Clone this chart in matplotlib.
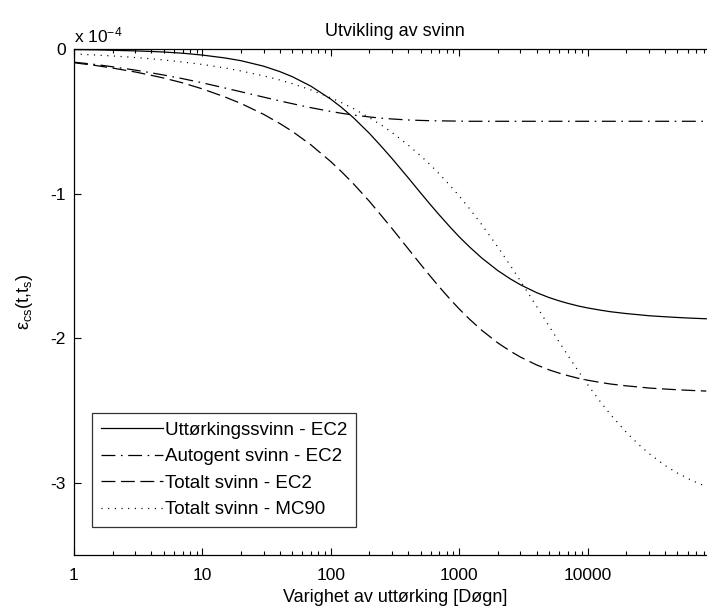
import matplotlib
matplotlib.use('Agg')
import matplotlib.pyplot as plt
from matplotlib.ticker import LogLocator, NullFormatter, FixedLocator

plt.rcParams['font.family'] = ['Liberation Sans', 'DejaVu Sans']
plt.rcParams['mathtext.default'] = 'regular'
plt.rcParams['lines.scale_dashes'] = False

# varighet av uttørking [døgn]
t_days = [1, 1.5, 2, 3, 4, 5, 7, 10, 15, 20, 30, 40, 50, 70, 100, 120, 150,
          200, 250, 300, 400, 500, 600, 700, 850, 1000, 1200, 1500, 2000,
          2500, 3000, 4000, 5000, 6000, 7000, 8500, 10000, 12500, 15000,
          20000, 25000, 30000, 40000, 50000, 65000, 84000]

# tøyning i enheter av 1e-4 (avlest)
uttorking_ec2 = [-0.004, -0.006, -0.009, -0.013, -0.017, -0.021, -0.029, -0.042,
                 -0.062, -0.081, -0.119, -0.156, -0.191, -0.257, -0.347, -0.401,
                 -0.475, -0.584, -0.678, -0.758, -0.890, -0.995, -1.079, -1.148,
                 -1.232, -1.299, -1.368, -1.446, -1.533, -1.590, -1.631, -1.685,
                 -1.719, -1.742, -1.759, -1.778, -1.791, -1.806, -1.817, -1.830,
                 -1.838, -1.845, -1.852, -1.857, -1.862, -1.866]
autogent_ec2 = [-0.091, -0.108, -0.123, -0.146, -0.165, -0.180, -0.205, -0.234,
                -0.270, -0.296, -0.333, -0.359, -0.378, -0.406, -0.432, -0.444,
                -0.457, -0.470, -0.479, -0.484, -0.491, -0.494, -0.496, -0.497,
                -0.498, -0.499, -0.500, -0.500, -0.500, -0.500, -0.500, -0.500,
                -0.500, -0.500, -0.500, -0.500, -0.500, -0.500, -0.500, -0.500,
                -0.500, -0.500, -0.500, -0.500, -0.500, -0.500]
totalt_ec2 = [-0.095, -0.115, -0.132, -0.159, -0.182, -0.201, -0.234, -0.276,
              -0.332, -0.377, -0.452, -0.515, -0.569, -0.663, -0.779, -0.845,
              -0.932, -1.054, -1.157, -1.242, -1.381, -1.489, -1.575, -1.646,
              -1.731, -1.798, -1.868, -1.946, -2.033, -2.090, -2.131, -2.185,
              -2.219, -2.242, -2.259, -2.278, -2.291, -2.306, -2.317, -2.330,
              -2.338, -2.345, -2.352, -2.357, -2.362, -2.366]
totalt_mc90 = [-0.034, -0.042, -0.048, -0.059, -0.068, -0.076, -0.090, -0.107,
               -0.131, -0.152, -0.186, -0.214, -0.239, -0.283, -0.338, -0.369,
               -0.412, -0.475, -0.529, -0.578, -0.664, -0.738, -0.804, -0.864,
               -0.945, -1.017, -1.103, -1.215, -1.370, -1.497, -1.605, -1.779,
               -1.916, -2.026, -2.118, -2.230, -2.321, -2.437, -2.526, -2.651,
               -2.736, -2.797, -2.880, -2.933, -2.985, -3.026]

labels = ['Uttørkingssvinn - EC2', 'Autogent svinn - EC2',
          'Totalt svinn - EC2', 'Totalt svinn - MC90']

fig = plt.figure(figsize=(7.07, 6.07), dpi=100)
# axes runs a bit past the right edge, like the cropped original
ax = fig.add_axes([74 / 707, 52 / 607, 642 / 707, 506 / 607])

lw = 0.9
ax.plot(t_days, uttorking_ec2, color='black', lw=lw, linestyle='-', label=labels[0])
ax.plot(t_days, autogent_ec2, color='black', lw=lw, linestyle=(0, (10, 4, 1.2, 4)), label=labels[1])
ax.plot(t_days, totalt_ec2, color='black', lw=lw, linestyle=(0, (10, 4)), label=labels[2])
ax.plot(t_days, totalt_mc90, color='black', lw=lw, linestyle=(0, (0.8, 4)), label=labels[3])

ax.set_xscale('log')
ax.set_xlim(1, 1e5)
ax.set_ylim(-3.5, 0)
ax.xaxis.set_major_locator(FixedLocator([1, 10, 100, 1000, 10000]))
ax.set_xticklabels(['1', '10', '100', '1000', '10000'])
ax.xaxis.set_minor_locator(LogLocator(base=10, subs=range(2, 10)))
ax.xaxis.set_minor_formatter(NullFormatter())
ax.set_yticks([0, -1, -2, -3])
ax.set_yticklabels(['0', '-1', '-2', '-3'])

ax.tick_params(which='both', direction='in', top=True, right=True, labelsize=12.5)
ax.tick_params(axis='x', which='major', pad=9)
ax.tick_params(axis='y', which='major', pad=6)
ax.tick_params(which='major', length=5, width=0.8)
ax.tick_params(which='minor', length=3, width=0.8)
for s in ax.spines.values():
    s.set_linewidth(0.9)

ax.set_title('Utvikling av svinn', fontsize=13, pad=9)
ax.set_xlabel('Varighet av uttørking [Døgn]', fontsize=13, labelpad=5)
ax.set_ylabel('ε$_{cs}$(t,t$_s$)', fontsize=13, labelpad=11)
ax.text(0.0, 1.008, 'x 10$^{-4}$', transform=ax.transAxes, fontsize=12.5,
        ha='left', va='bottom')

leg = ax.legend(loc='lower left', bbox_to_anchor=(92 / 707, 80 / 607),
                bbox_transform=fig.transFigure, fontsize=13.5, frameon=True,
                fancybox=False, edgecolor='black', handlelength=3.3,
                handletextpad=0.1, labelspacing=0.5, borderpad=0.47,
                borderaxespad=0)
leg.get_frame().set_linewidth(0.9)

fig.savefig('out.png', dpi=100)
